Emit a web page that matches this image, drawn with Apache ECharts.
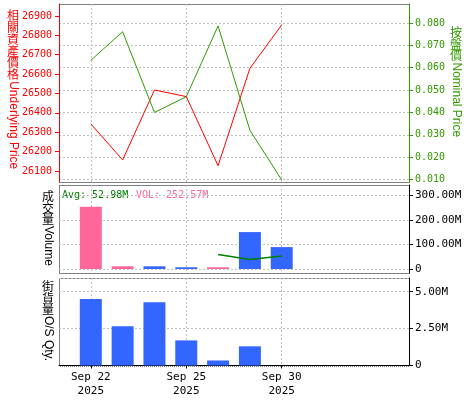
<!DOCTYPE html>
<html><head><meta charset="utf-8">
<script src="https://cdn.jsdelivr.net/npm/echarts@6/dist/echarts.min.js"></script>
<style>html,body{margin:0;padding:0;background:#fff}#c{width:475px;height:400px}</style>
</head><body><div id="c"></div>
<script>
// ---- data ----
const dates = ['Sep 22','Sep 23','Sep 24','Sep 25','Sep 26','Sep 29','Sep 30'];
const year = '2025';
const labelledDates = ['Sep 22','Sep 25','Sep 30'];
const underlyingPrice = [26343, 26157, 26518, 26484, 26127, 26630, 26854];
const nominalPrice = [0.0633, 0.0761, 0.0400, 0.0470, 0.0787, 0.0320, 0.0098];
const volume = [252.57e6, 11e6, 11e6, 7e6, 7e6, 150e6, 89e6];
const volumeSide = ['down','down','up','up','down','up','up'];
const volumeAvg = [null, null, null, null, 59e6, 39e6, 52.98e6];
const osQty = [4.50e6, 2.66e6, 4.29e6, 1.70e6, 0.34e6, 1.30e6, null];
const underlyingTicks = [26100, 26200, 26300, 26400, 26500, 26600, 26700, 26800, 26900];
const nominalTicks = [0.01, 0.02, 0.03, 0.04, 0.05, 0.06, 0.07, 0.08];
const volumeTicks = [0, 100e6, 200e6, 300e6];

// ---- build ----
const slots = [' '].concat(dates, ['  ', '   ', '    ', '     ']);
const pad = a => [null].concat(a, [null, null, null, null]);
const L = 59, R = 66, W = 350;
const G = [{top: 4, height: 178}, {top: 185, height: 88}, {top: 278, height: 87.5}];
const MONO = '"DejaVu Sans Mono", monospace';
const SANS = '"Liberation Sans", Arial, sans-serif';
const CJK = '"Noto Sans CJK TC", sans-serif';
const RED = '#ff0000', GRN = '#339900', PINK = '#ff6699', BLUE = '#3366ff', DGRN = '#008000';
const mFmt = v => v === 0 ? '0' : (v / 1e6).toFixed(2) + 'M';
const showDate = (i, name) => labelledDates.indexOf(name) >= 0;
const gridLine = {show: true, lineStyle: {color: '#c0c0c0', type: [2, 2], width: 1}};

function xAx(gi, last) {
  return {
    type: 'category', gridIndex: gi, data: slots, boundaryGap: false,
    axisLine: {show: last, lineStyle: {color: '#000', width: 1}},
    axisTick: {show: last, interval: showDate, length: 3, lineStyle: {color: '#000'}},
    axisLabel: {show: last, interval: showDate, color: '#000', fontFamily: MONO, fontSize: 11,
      lineHeight: 14, margin: 5, formatter: v => v + '\n' + year},
    splitLine: Object.assign({interval: showDate}, gridLine)
  };
}

const avgLast = volumeAvg[volumeAvg.length - 1];
const volShown = volume[0];

function border(g) {
  return {type: 'rect', silent: true, z: 0,
    shape: {x: L + 0.5, y: g.top + 0.5, width: W, height: g.height},
    style: {fill: 'none', stroke: '#000', lineWidth: 1, lineDash: [1, 1]}};
}
function vtitle(x, y, cjk, latin, color, step, fs) {
  const n = cjk.length;
  return [
    {type: 'text', x: x, y: y, silent: true, style: {text: cjk.split('').join('\n'), fill: color,
      font: fs + 'px ' + CJK, align: 'center', verticalAlign: 'top', lineHeight: step}},
    {type: 'text', x: x, y: y + n * step + 1, rotation: -Math.PI / 2, silent: true,
      style: {text: latin, fill: color, font: fs + 'px ' + SANS, align: 'left', verticalAlign: 'middle'}}
  ];
}

const option = {
  animation: false,
  backgroundColor: '#fff',
  grid: G.map(g => ({left: L, right: R, top: g.top, height: g.height})),
  xAxis: [xAx(0, false), xAx(1, false), xAx(2, true)],
  yAxis: [
    {type: 'value', gridIndex: 0, position: 'left', min: 26043, max: 26962, scale: true,
      axisLine: {show: true, lineStyle: {color: RED, width: 1}},
      axisTick: {show: true, length: 4, customValues: underlyingTicks, lineStyle: {color: RED}},
      axisLabel: {color: RED, fontFamily: MONO, fontSize: 10, margin: 7, customValues: underlyingTicks,
        formatter: v => String(v)},
      splitLine: {show: false}},
    {type: 'value', gridIndex: 0, position: 'right', min: 0.00888, max: 0.0885, scale: true,
      axisLine: {show: true, lineStyle: {color: GRN, width: 1}},
      axisTick: {show: true, length: 4, customValues: nominalTicks, lineStyle: {color: GRN}},
      axisLabel: {color: GRN, fontFamily: MONO, fontSize: 10, margin: 6, customValues: nominalTicks,
        formatter: v => v.toFixed(3)},
      splitLine: gridLine},
    {type: 'value', gridIndex: 1, position: 'right', min: -16.3e6, max: 341.4e6, scale: true,
      axisLine: {show: true, lineStyle: {color: '#000', width: 1}},
      axisTick: {show: true, length: 4, customValues: volumeTicks, lineStyle: {color: '#000'}},
      axisLabel: {color: '#000', fontFamily: MONO, fontSize: 11, margin: 6, customValues: volumeTicks,
        formatter: mFmt},
      splitLine: gridLine},
    {type: 'value', gridIndex: 2, position: 'right', min: 0, max: 5.93e6, interval: 2.5e6,
      axisLine: {show: true, lineStyle: {color: '#000', width: 1}},
      axisTick: {show: true, length: 4, lineStyle: {color: '#000'}},
      axisLabel: {color: '#000', fontFamily: MONO, fontSize: 11, margin: 6, formatter: mFmt,
        showMaxLabel: false},
      splitLine: gridLine}
  ],
  series: [
    {type: 'line', xAxisIndex: 0, yAxisIndex: 0, data: pad(underlyingPrice), showSymbol: false,
      lineStyle: {color: RED, width: 1}, itemStyle: {color: RED}, z: 3},
    {type: 'line', xAxisIndex: 0, yAxisIndex: 1, data: pad(nominalPrice), showSymbol: false,
      lineStyle: {color: GRN, width: 1}, itemStyle: {color: GRN}, z: 3},
    {type: 'bar', xAxisIndex: 1, yAxisIndex: 2, barWidth: 22,
      data: pad(volume.map((v, i) => ({value: v, itemStyle: {color: volumeSide[i] === 'down' ? PINK : BLUE}})))},
    {type: 'line', xAxisIndex: 1, yAxisIndex: 2, data: pad(volumeAvg), showSymbol: false,
      lineStyle: {color: DGRN, width: 1.5}, itemStyle: {color: DGRN}, z: 4},
    {type: 'bar', xAxisIndex: 2, yAxisIndex: 3, barWidth: 22, data: pad(osQty), itemStyle: {color: BLUE}}
  ],
  graphic: [].concat(
    G.map(g => border(g)),
    vtitle(13, 10, '相關資產價格', 'Underlying Price', RED, 11.7, 12),
    vtitle(456, 27, '按盤價', 'Nominal Price', GRN, 11.5, 12),
    vtitle(48, 191, '成交量', 'Volume', '#000', 11.3, 12),
    vtitle(48, 281, '街貨量', 'O/S Qty.', '#000', 11.3, 12),
    [
      {type: 'text', x: 62, y: 195, silent: true, style: {text: 'Avg: ' + mFmt(avgLast), fill: DGRN,
        font: '10px ' + MONO, align: 'left', verticalAlign: 'middle'}},
      {type: 'text', x: 136, y: 195, silent: true, style: {text: 'VOL: ' + mFmt(volShown), fill: PINK,
        font: '10px ' + MONO, align: 'left', verticalAlign: 'middle'}}
    ]
  )
};
echarts.init(document.getElementById('c'), null, {renderer: 'canvas'}).setOption(option);
</script>
</body></html>
